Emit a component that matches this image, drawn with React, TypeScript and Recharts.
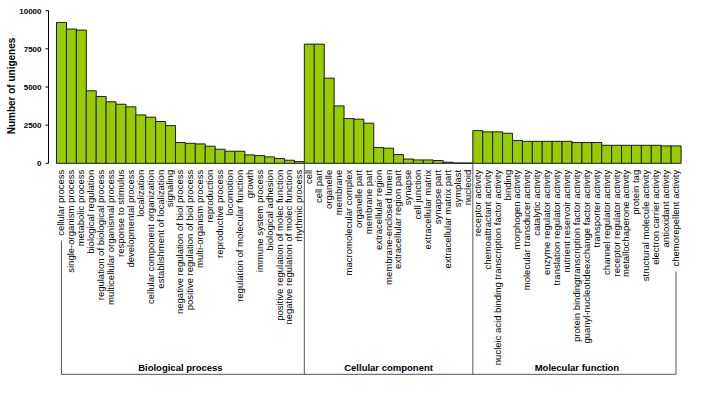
import React from 'react';
import { BarChart, Bar, XAxis, YAxis } from 'recharts';

const groupNames = ['Biological process', 'Cellular component', 'Molecular function'];

const bpCategories = [
  'cellular process', 'single-organism process', 'metabolic process', 'biological regulation',
  'regulation of biological process', 'multicellular organismal process', 'response to stimulus',
  'developmental process', 'localization', 'cellular component organization',
  'establishment of localization', 'signaling', 'negative regulation of biol process',
  'positive regulation of biol process', 'multi-organism process', 'reproduction',
  'reproductive process', 'locomotion', 'regulation of molecular function', 'growth',
  'immune system process', 'biological adhesion', 'positive regulation of molec function',
  'negative regulation of molec function', 'rhythmic process',
];
const bpValues = [
  9230, 8800, 8730, 4750, 4380, 4030, 3870, 3700, 3170, 3020, 2740, 2470, 1360,
  1310, 1270, 1120, 920, 790, 790, 550, 500, 420, 310, 200, 110,
];

const ccCategories = [
  'cell', 'cell part', 'organelle', 'membrane', 'macromolecular complex', 'organelle part',
  'membrane part', 'extracellular region', 'membrane-enclosed lumen', 'extracellular region part',
  'synapse', 'cell junction', 'extracellular matrix', 'synapse part', 'extracellular matrix part',
  'symplast', 'nucleoid',
];
const ccValues = [7810, 7810, 5580, 3760, 2930, 2890, 2630, 1030, 990, 570, 280, 220, 220, 180, 70, 20, 20];

const mfCategories = [
  'receptor activity', 'chemoattractant activity', 'nucleic acid binding transcription factor activity',
  'binding', 'morphogen activity', 'molecular transducer activity', 'catalytic activity',
  'enzyme regulator activity', 'translation regulator activity', 'nutrient reservoir activity',
  'protein bindingtranscription factor activity', 'guanyl-nucleotideexchange factor activity',
  'transporter activity', 'channel regulator activity', 'receptor regulator activity',
  'metallochaperone activity', 'protein tag', 'structural molecule activity',
  'electron carrier activity', 'antioxidant activity', 'chemorepellent activity',
];
const mfValues = [
  2140, 2060, 2060, 1970, 1490, 1440, 1440, 1440, 1440, 1440, 1360, 1360, 1360,
  1180, 1180, 1180, 1180, 1180, 1180, 1140, 1140,
];

const yTicks = [0, 2500, 5000, 7500, 10000];

const groups = [
  { name: groupNames[0], categories: bpCategories, values: bpValues },
  { name: groupNames[1], categories: ccCategories, values: ccValues },
  { name: groupNames[2], categories: mfCategories, values: mfValues },
];

const data = groups.flatMap((g) =>
  g.categories.map((c, i) => ({ name: c, value: g.values[i], group: g.name }))
);

const groupStarts: number[] = [];
{
  let acc = 0;
  groups.forEach((g) => {
    groupStarts.push(acc);
    acc += g.categories.length;
  });
}
const total = data.length;

const FONT = '"Liberation Sans", Arial, Helvetica, sans-serif';
const LABEL_SIZE = 9.5;
const BRACKET_Y = 374.3;
const LINE_COLOR = '#555';

let ctx: CanvasRenderingContext2D | null = null;
function textWidth(s: string, font: string): number {
  if (!ctx) ctx = document.createElement('canvas').getContext('2d');
  if (!ctx) return s.length * 5;
  ctx.font = font;
  return ctx.measureText(s).width;
}

function XTick(props: any) {
  const { x, y, payload, index } = props;
  const half =
    payload && typeof payload.offset === 'number' && payload.offset > 0
      ? payload.offset
      : 624.5 / total / 2;
  const label = String(payload.value);
  const tx = x + 3;
  const ty = y + 6.5;
  const els: React.ReactNode[] = [
    <text
      key="t"
      x={tx}
      y={ty}
      transform={`rotate(-90 ${tx} ${ty})`}
      textAnchor="end"
      fontSize={LABEL_SIZE}
      fontFamily={FONT}
      fill="#000"
    >
      {label}
    </text>,
  ];
  const labelEnd = ty + textWidth(label, `${LABEL_SIZE}px ${FONT}`) + 5;
  if (index === 0) {
    els.push(
      <line key="h" x1={x} y1={BRACKET_Y} x2={x + (total - 1) * 2 * half} y2={BRACKET_Y} stroke={LINE_COLOR} strokeWidth={1} />
    );
    els.push(<line key="lv" x1={x} y1={labelEnd} x2={x} y2={BRACKET_Y} stroke={LINE_COLOR} strokeWidth={1} />);
  }
  if (index === total - 1) {
    els.push(<line key="rv" x1={x} y1={labelEnd} x2={x} y2={BRACKET_Y} stroke={LINE_COLOR} strokeWidth={1} />);
  }
  groupStarts.forEach((s, gi) => {
    if (gi > 0 && index === s - 1) {
      els.push(
        <line key={`sep${gi}`} x1={x + half} y1={y} x2={x + half} y2={BRACKET_Y} stroke={LINE_COLOR} strokeWidth={1} />
      );
    }
    if (index === s) {
      const count = groups[gi].categories.length;
      const cx = x - half + count * half;
      els.push(
        <text
          key={`g${gi}`}
          x={cx}
          y={371}
          textAnchor="middle"
          fontSize={9.5}
          fontWeight="bold"
          fontFamily={FONT}
          fill="#000"
        >
          {groups[gi].name}
        </text>
      );
    }
  });
  return <g>{els}</g>;
}

function YLabel(props: any) {
  const vb = props.viewBox || { x: 0, y: 10.7, width: 48.5, height: 152.6 };
  const cx = vb.x + 11;
  const cy = vb.y + vb.height / 2 - 1;
  return (
    <text
      x={cx}
      y={cy}
      transform={`rotate(-90 ${cx} ${cy})`}
      textAnchor="middle"
      dominantBaseline="central"
      fontSize={10}
      fontWeight="bold"
      fontFamily={FONT}
      fill="#000"
    >
      Number of unigenes
    </text>
  );
}

export default function App() {
  return (
    <div style={{ position: 'absolute', left: 0, top: 0, width: 702, height: 399, background: '#fff' }}>
      <BarChart
        width={702}
        height={399}
        data={data}
        margin={{ top: 10.7, right: 21, bottom: 0, left: 0 }}
        barCategoryGap={0}
        barGap={0}
      >
        <XAxis
          dataKey="name"
          interval={0}
          axisLine={false}
          tickLine={false}
          tickSize={0}
          tickMargin={0}
          height={235.7}
          padding={{ left: 8, right: 0 }}
          tick={<XTick />}
        />
        <YAxis
          width={48.5}
          domain={[0, 10000]}
          ticks={yTicks}
          interval={0}
          tickSize={3}
          tickMargin={4}
          axisLine={{ stroke: '#000' }}
          tickLine={{ stroke: '#000' }}
          tick={{ fontSize: 8, fontWeight: 'bold', fill: '#000', fontFamily: FONT }}
          label={<YLabel />}
        />
        <Bar dataKey="value" fill="#99CC00" stroke="#1a1a1a" strokeWidth={1} isAnimationActive={false} />
      </BarChart>
    </div>
  );
}
